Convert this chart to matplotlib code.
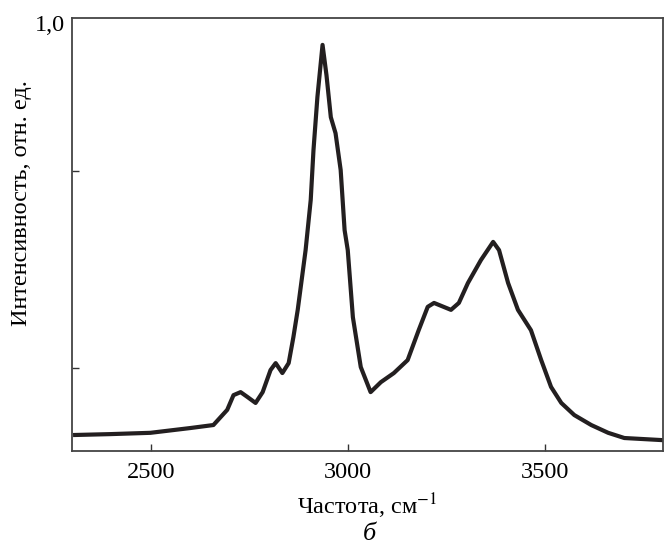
import numpy as np
import matplotlib
matplotlib.use('Agg')
import matplotlib.pyplot as plt

#Wavenumbers (cm^-1)
freq = [2308, 2397, 2499, 2600, 2659, 2694, 2710, 2728, 2745, 2766, 2784, 2804,
        2817, 2834, 2850, 2862, 2873, 2893, 2906, 2913, 2923, 2936, 2946, 2957,
        2969, 2982, 2992, 3000, 3013, 3033, 3058, 3084, 3117, 3152, 3180, 3203,
        3219, 3262, 3282, 3305, 3338, 3369, 3384, 3407, 3432, 3465, 3491, 3516,
        3542, 3575, 3618, 3661, 3702, 3801]
#Relative intensity at each wavenumber
intensity = [0.037, 0.039, 0.042, 0.053, 0.060, 0.095, 0.129, 0.136, 0.125, 0.111,
             0.136, 0.187, 0.203, 0.180, 0.203, 0.263, 0.326, 0.464, 0.580, 0.695,
             0.818, 0.938, 0.868, 0.771, 0.734, 0.649, 0.510, 0.464, 0.309, 0.194,
             0.136, 0.159, 0.180, 0.210, 0.279, 0.333, 0.342, 0.326, 0.342, 0.388,
             0.441, 0.483, 0.464, 0.388, 0.326, 0.279, 0.210, 0.148, 0.111, 0.083,
             0.060, 0.042, 0.030, 0.025]
x_ticks = [2500, 3000, 3500]
y_ticks = [0.192, 0.647]

plt.rcParams['font.family'] = ['Liberation Serif', 'DejaVu Serif']
plt.rcParams['mathtext.fontset'] = 'stix'

fig = plt.figure(figsize=(6.64, 5.47), dpi=100)
ax = fig.add_axes([0.1084, 0.1755, 0.89, 0.7915])

ax.plot(freq, intensity, color='#231f20', lw=3.0, solid_joinstyle='round')

ax.set_xlim(2300, 3800)
ax.set_ylim(0, 1)
ax.set_xticks(x_ticks)
ax.set_xticklabels([str(t) for t in x_ticks])
ax.set_yticks(y_ticks)
ax.set_yticklabels(['', ''])
ax.tick_params(direction='in', length=5, width=1.0, color='#333333',
               labelsize=17.5, pad=8)
for s in ax.spines.values():
    s.set_color('#444444')
    s.set_linewidth(1.3)

ax.text(-0.012, 1.008, '1,0', transform=ax.transAxes, ha='right', va='top', fontsize=17.5)
ax.set_xlabel('Частота, см$^{-1}$', fontsize=17.5)
ax.xaxis.set_label_coords(0.5, -0.093)
ax.set_ylabel('Интенсивность, отн. ед.', fontsize=17.5)
ax.yaxis.set_label_coords(-0.068, 0.573)
fig.text(0.557, 0.003, 'б', ha='center', va='bottom', fontsize=19, style='italic')

plt.savefig('out.png', dpi=100)
